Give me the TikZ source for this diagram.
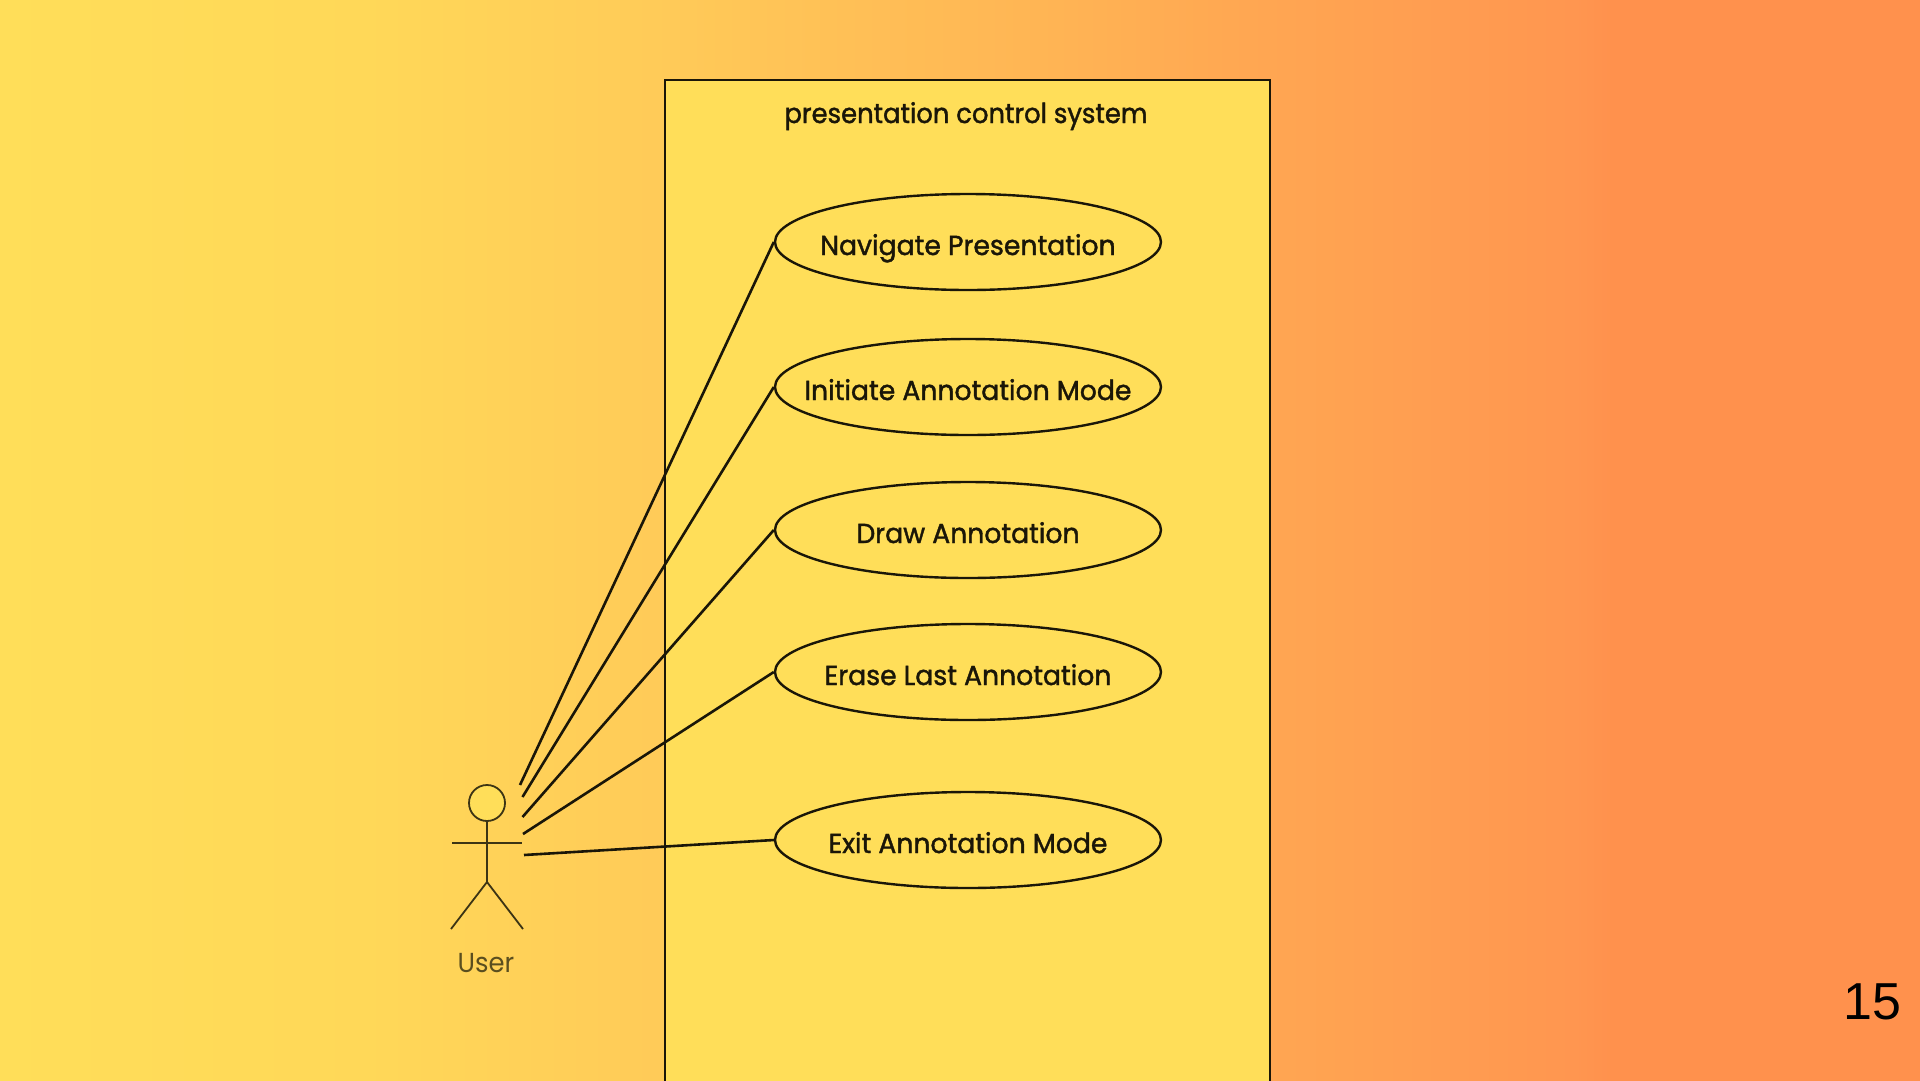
\documentclass[tikz,border=0pt]{standalone}
\usepackage{fontspec}
\setmainfont{Poppins}
\newfontfamily\numfont{Liberation Sans}
\newfontfamily\lblfont[FakeStretch=0.94,FakeBold=1.4]{Poppins}
\newfontfamily\ucfont[FakeStretch=0.97,FakeBold=1.4]{Poppins}
\newfontfamily\actfont[FakeStretch=0.94]{Poppins}
\usetikzlibrary{shapes.geometric}
\definecolor{ylw}{HTML}{FFDE59}
\definecolor{org}{HTML}{FF914D}
\definecolor{ink}{HTML}{1A1608}
\definecolor{c1}{HTML}{FFD858}
\definecolor{c2}{HTML}{FFCB58}
\definecolor{c3}{HTML}{FFB454}
\definecolor{c4}{HTML}{FFA852}
\definecolor{c5}{HTML}{FF9650}
\pgfdeclarehorizontalshading{bg}{100bp}{color(0bp)=(ylw); color(25bp)=(ylw); color(34.5bp)=(c1); color(42bp)=(c2); color(52.5bp)=(c3); color(57bp)=(c4); color(66bp)=(c5); color(67bp)=(org); color(100bp)=(org)}
\newcommand{\uctext}[1]{\raisebox{-13pt}[0pt][0pt]{\makebox[0pt]{#1}}}
\tikzset{
  lbl/.style={font=\fontsize{27.5}{30}\lblfont,text=ink},
  usecase/.style={ellipse,draw=ink,line width=2.4pt,fill=ylw,minimum width=386pt,minimum height=96pt,inner sep=0pt,font=\fontsize{27.5}{30}\ucfont,text=ink},
  assoc/.style={draw=ink,line width=2.6pt},
  actorline/.style={draw=ink!85!ylw,line width=1.8pt}
}
\begin{document}
\begin{tikzpicture}[x=1pt,y=-1pt]
\useasboundingbox (0,0) rectangle (1920,1080);
\shade[shading=bg] (0,0) rectangle (1920,1080);
\node[draw=ink,line width=2.2pt,fill=ylw,inner sep=0pt,rectangle,anchor=north west,minimum width=605pt,minimum height=1010pt] (sys) at (664,79) {};
\node[lbl,anchor=base] (title) at (966,123) {presentation control system};
\node[usecase] (uc1) at (968,242) {\uctext{Navigate Presentation}};
\node[usecase] (uc2) at (968,387) {\uctext{Initiate Annotation Mode}};
\node[usecase] (uc3) at (968,530) {\uctext{Draw Annotation}};
\node[usecase] (uc4) at (968,672) {\uctext{Erase Last Annotation}};
\node[usecase] (uc5) at (968,840) {\uctext{Exit Annotation Mode}};
\node[circle,draw=ink!85!ylw,line width=1.8pt,fill=ylw,minimum size=36pt,inner sep=0pt] (head) at (487,803) {};
\coordinate (hip) at (487,882);
\coordinate (armL) at (452,843);
\coordinate (armR) at (522,843);
\coordinate (legL) at (451,929);
\coordinate (legR) at (523,929);
\draw[actorline] (head.south) -- (hip);
\draw[actorline] (armL) -- (armR);
\draw[actorline] (legL) -- (hip) -- (legR);
\node[font=\fontsize{27.5}{30}\actfont,text=ink!72!ylw,anchor=base] (user) at (486,972.5) {User};
\coordinate (a1) at (520,785);
\coordinate (a2) at (522.5,797);
\coordinate (a3) at (522.5,817);
\coordinate (a4) at (523,834);
\coordinate (a5) at (524,855);
\draw[assoc] (a1) -- (uc1.west);
\draw[assoc] (a2) -- (uc2.west);
\draw[assoc] (a3) -- (uc3.west);
\draw[assoc] (a4) -- (uc4.west);
\draw[assoc] (a5) -- (uc5.west);
\node[font=\fontsize{52}{60}\selectfont\numfont,text=black] (pg) at (1872,1002) {15};
\end{tikzpicture}
\end{document}
